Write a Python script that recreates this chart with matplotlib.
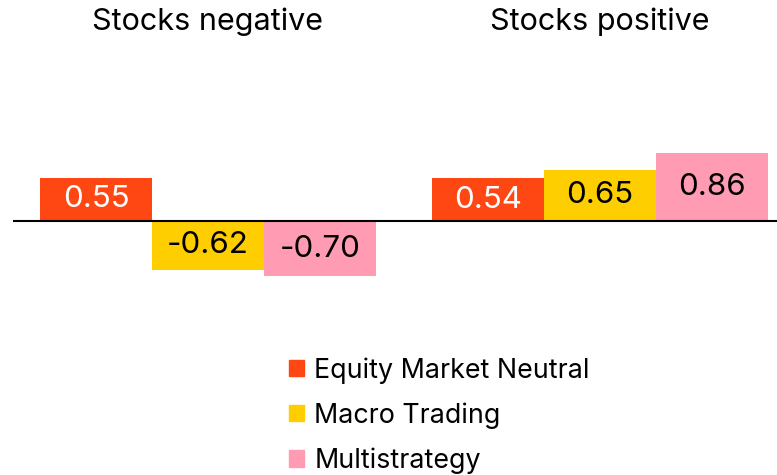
import matplotlib.pyplot as plt
from matplotlib.patches import Patch

plt.rcParams['font.family'] = ['Inter', 'DejaVu Sans']

groups = ['Stocks negative', 'Stocks positive']
series = ['Equity Market Neutral', 'Macro Trading', 'Multistrategy']
values = [
    [0.55, 0.54],   # Equity Market Neutral
    [-0.62, 0.65],  # Macro Trading
    [-0.70, 0.86],  # Multistrategy
]
colors = ['#FF4713', '#FFCE00', '#FF9BB3']
label_colors = ['white', 'black', 'black']

W, H = 777, 475
fig = plt.figure(figsize=(W / 100, H / 100), dpi=100)
# axes in pixel terms: x 13..777, y (from bottom) 175..335
ax = fig.add_axes([13 / W, 175 / H, (W - 13) / W, 160 / H])

group_centers = [0, 3.5]
for i, name in enumerate(series):
    xs = [c + (i - 1) for c in group_centers]
    bars = ax.bar(xs, values[i], width=1.0, color=colors[i], label=name)
    for b, v in zip(bars, values[i]):
        ax.text(b.get_x() + b.get_width() / 2, v / 2, f'{v:.2f}',
                ha='center', va='center', color=label_colors[i], fontsize=22.5)

ax.axhline(0, color='black', lw=1.5)
ax.set_xlim(-1.741, 5.08)
ax.set_ylim(-1.0, 1.025)
ax.axis('off')

for c, g in zip(group_centers, groups):
    fig.text((13 + (c + 1.741) * 112) / W, 1 - 22 / H, g,
             ha='center', va='center', fontsize=22)

handles = [Patch(color=col, label=s) for col, s in zip(colors, series)]
fig.legend(handles=handles, loc='upper left', bbox_to_anchor=(289 / W, 1 - 357 / H),
           frameon=False, fontsize=19.3, handlelength=0.55, handleheight=0.55,
           handletextpad=0.4, labelspacing=0.7, borderaxespad=0, borderpad=0)

fig.savefig('out.png', dpi=100)
